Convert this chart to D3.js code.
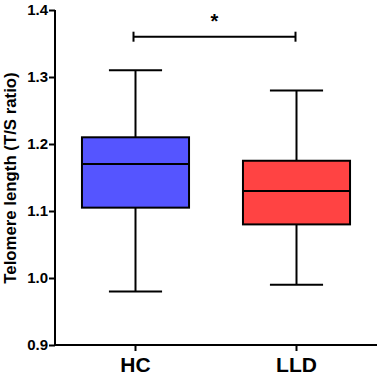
<!DOCTYPE html>
<html>
<head>
<meta charset="utf-8">
<script src="https://cdn.jsdelivr.net/npm/d3@7"></script>
<style>
  html, body { margin: 0; padding: 0; background: #fff; }
  svg { display: block; font-family: "Liberation Sans", Arial, sans-serif; }
</style>
</head>
<body>
<svg id="chart" width="380" height="377"></svg>
<script>
const categories = ["HC", "LLD"];
const whiskerLow = [0.98, 0.99];
const q1 = [1.105, 1.08];
const median = [1.17, 1.13];
const q3 = [1.21, 1.175];
const whiskerHigh = [1.31, 1.28];
const boxColors = ["#5555FF", "#FF4343"];
const yTicks = [0.9, 1.0, 1.1, 1.2, 1.3, 1.4];
const yTitle = "Telomere length (T/S ratio)";
const sigLabel = "*";

(function () {
const svg = d3.select("#chart");
const mLeft = 55, mRight = 377, mTop = 10, mBottom = 345;

const y = d3.scaleLinear().domain([0.9, 1.4]).range([mBottom, mTop]);
const x = d3.scaleBand().domain(categories).range([mLeft, mRight]).padding(0);
const boxW = x.bandwidth() * 0.665;
const capW = x.bandwidth() * 0.33;

const data = categories.map((c, i) => ({
  cat: c, lo: whiskerLow[i], q1: q1[i], med: median[i], q3: q3[i], hi: whiskerHigh[i], color: boxColors[i]
}));

const g = svg.append("g");
data.forEach(d => {
  const cx = x(d.cat) + x.bandwidth() / 2;
  const gg = g.append("g");
  gg.append("line").attr("x1", cx).attr("x2", cx).attr("y1", y(d.hi)).attr("y2", y(d.q3))
    .attr("stroke", "#000").attr("stroke-width", 2);
  gg.append("line").attr("x1", cx).attr("x2", cx).attr("y1", y(d.q1)).attr("y2", y(d.lo))
    .attr("stroke", "#000").attr("stroke-width", 2);
  gg.append("line").attr("x1", cx - capW / 2).attr("x2", cx + capW / 2).attr("y1", y(d.hi)).attr("y2", y(d.hi))
    .attr("stroke", "#000").attr("stroke-width", 2);
  gg.append("line").attr("x1", cx - capW / 2).attr("x2", cx + capW / 2).attr("y1", y(d.lo)).attr("y2", y(d.lo))
    .attr("stroke", "#000").attr("stroke-width", 2);
  gg.append("rect").attr("x", cx - boxW / 2).attr("y", y(d.q3)).attr("width", boxW)
    .attr("height", y(d.q1) - y(d.q3)).attr("fill", d.color).attr("stroke", "#000").attr("stroke-width", 2);
  gg.append("line").attr("x1", cx - boxW / 2).attr("x2", cx + boxW / 2).attr("y1", y(d.med)).attr("y2", y(d.med))
    .attr("stroke", "#000").attr("stroke-width", 2);
});

const yAxis = svg.append("g").attr("transform", `translate(${mLeft},0)`)
  .call(d3.axisLeft(y).tickValues(yTicks).tickFormat(d3.format(".1f")).tickSize(6).tickPadding(1));
yAxis.select(".domain").attr("stroke", "#000").attr("stroke-width", 2).attr("d", `M0,${mTop}V${mBottom}`);
yAxis.selectAll(".tick line").attr("stroke", "#000").attr("stroke-width", 2);
yAxis.selectAll(".tick text").attr("font-size", 15).attr("font-weight", "bold").attr("fill", "#000")
  .attr("font-family", "Liberation Sans, Arial, sans-serif");

const xAxis = svg.append("g").attr("transform", `translate(0,${mBottom})`)
  .call(d3.axisBottom(x).tickSize(6).tickPadding(6));
xAxis.select(".domain").attr("stroke", "#000").attr("stroke-width", 2).attr("d", `M${mLeft},0H${mRight}`);
xAxis.selectAll(".tick line").attr("stroke", "#000").attr("stroke-width", 2);
xAxis.selectAll(".tick text").attr("font-size", 21).attr("font-weight", "bold").attr("fill", "#000")
  .attr("font-family", "Liberation Sans, Arial, sans-serif").attr("dy", "0.72em");

svg.append("text")
  .attr("transform", `translate(16,178) rotate(-90)`)
  .attr("text-anchor", "middle")
  .attr("font-size", 16.8).attr("font-weight", "bold").attr("fill", "#000")
  .text(yTitle);

const x1 = x(categories[0]) + x.bandwidth() / 2 - 2;
const x2 = x(categories[1]) + x.bandwidth() / 2 - 1;
const by = 36.7;
const br = svg.append("g").attr("stroke", "#000").attr("stroke-width", 2);
br.append("line").attr("x1", x1).attr("x2", x2).attr("y1", by).attr("y2", by);
br.append("line").attr("x1", x1).attr("x2", x1).attr("y1", by - 5).attr("y2", by + 5);
br.append("line").attr("x1", x2).attr("x2", x2).attr("y1", by - 5).attr("y2", by + 5);
svg.append("text").attr("x", (x1 + x2) / 2).attr("y", 28).attr("text-anchor", "middle")
  .attr("font-size", 20).attr("font-weight", "bold").attr("fill", "#000").text(sigLabel);
})();
</script>
</body>
</html>
